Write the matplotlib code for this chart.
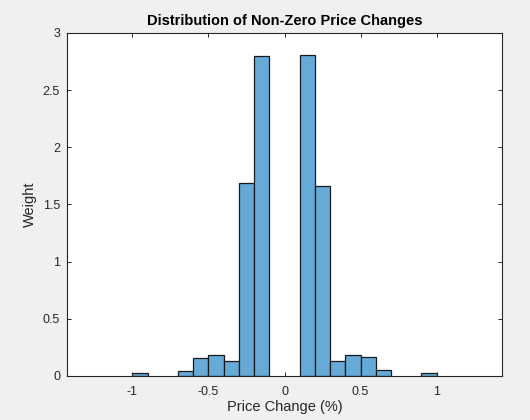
import numpy as np
import matplotlib
matplotlib.use("Agg")
import matplotlib.pyplot as plt

# histogram bins (left edge, %) and normalised weights
bin_left = [-1.0, -0.7, -0.6, -0.5, -0.4, -0.3, -0.2,
            0.1, 0.2, 0.3, 0.4, 0.5, 0.6, 0.9]
weights = [0.025, 0.045, 0.155, 0.18, 0.13, 1.69, 2.795,
           2.805, 1.665, 0.135, 0.18, 0.163, 0.05, 0.03]
bin_width = 0.1

xticks = [-1, -0.5, 0, 0.5, 1]
yticks = [0, 0.5, 1, 1.5, 2, 2.5, 3]

plt.rcParams.update({
    "font.family": ["Liberation Sans", "DejaVu Sans"],
    "axes.edgecolor": "#262626",
    "xtick.color": "#262626",
    "ytick.color": "#262626",
    "axes.linewidth": 0.8,
})

fig = plt.figure(figsize=(5.3, 4.2), dpi=100, facecolor="#F0F0F0")
ax = fig.add_axes([0.1264, 0.1048, 0.8208, 0.8167])

ax.bar(bin_left, weights, width=bin_width, align="edge",
       color="#66AAD7", edgecolor="#1a1a1a", linewidth=0.9)

ax.set_xlim(-1.43, 1.43)
ax.set_ylim(0, 3)
ax.set_xticks(xticks)
ax.set_xticklabels([f"{t:g}" for t in xticks])
ax.set_yticks(yticks)
ax.set_yticklabels([f"{t:g}" for t in yticks])
ax.tick_params(direction="in", length=3, width=0.7, labelsize=9,
               top=True, right=True)
ax.tick_params(axis="x", pad=7)
ax.tick_params(axis="y", pad=5)

ax.set_xlabel("Price Change (%)", fontsize=10.5, color="#262626", labelpad=2)
ax.set_ylabel("Weight", fontsize=10.5, color="#262626", labelpad=4)
ax.set_title("Distribution of Non-Zero Price Changes", fontsize=10.5,
             fontweight="bold", color="black", pad=6)

fig.savefig("out.png", dpi=100, facecolor=fig.get_facecolor())
